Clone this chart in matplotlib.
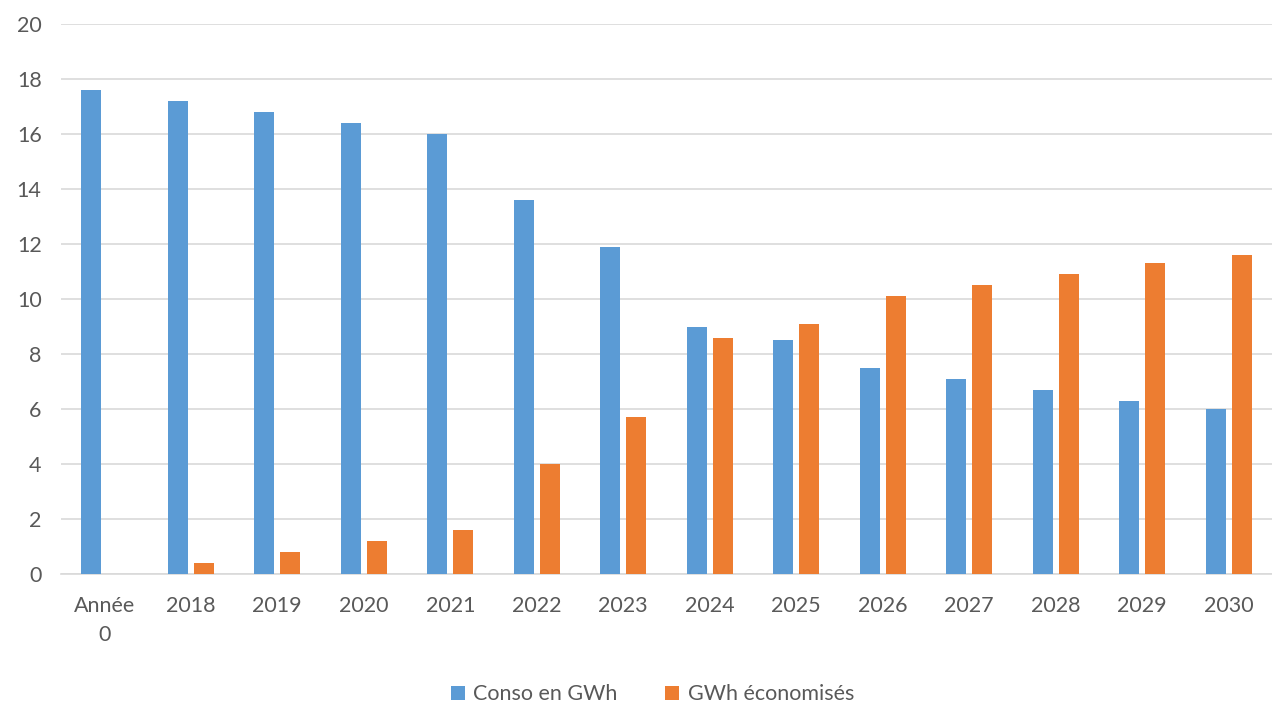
import numpy as np
import matplotlib.pyplot as plt

plt.rcParams['font.family'] = ['Lato', 'DejaVu Sans']

# Data
categories = ['Année\n0', '2018', '2019', '2020', '2021', '2022', '2023',
              '2024', '2025', '2026', '2027', '2028', '2029', '2030']
conso = [17.6, 17.2, 16.8, 16.4, 16.0, 13.6, 11.9, 9.0, 8.5, 7.5, 7.1, 6.7, 6.3, 6.0]
economises = [0.0, 0.4, 0.8, 1.2, 1.6, 4.0, 5.7, 8.6, 9.1, 10.1, 10.5, 10.9, 11.3, 11.6]

blue = '#5B9BD5'
orange = '#ED7D31'
text_col = '#595959'

fig = plt.figure(figsize=(12.72, 7.07), dpi=100)
ax = fig.add_axes([0.048, 0.188, 0.952, 0.778])

x = np.arange(len(categories))
w = 0.23
ax.bar(x - 0.15, conso, w, color=blue, label='Conso en GWh', zorder=3)
ax.bar(x + 0.15, economises, w, color=orange, label='GWh économisés', zorder=3)

ax.set_xlim(-0.5, len(categories) - 0.5)
ax.set_ylim(0, 20)
ax.set_yticks(range(0, 21, 2))
ax.set_xticks(x)
ax.set_xticklabels(categories, linespacing=1.55)
ax.grid(axis='y', color='#D9D9D9', linewidth=1.2, zorder=0)
for s in ['top', 'right', 'left']:
    ax.spines[s].set_visible(False)
ax.spines['bottom'].set_color('#D9D9D9')
ax.spines['bottom'].set_linewidth(1.2)
ax.tick_params(length=0, labelsize=15.5, colors=text_col)
ax.tick_params(axis='x', pad=16)
ax.tick_params(axis='y', pad=14)

leg = fig.legend(loc='center', bbox_to_anchor=(0.513, 0.018), ncol=2, frameon=False,
                 fontsize=15.5, handlelength=0.65, handleheight=0.65,
                 columnspacing=2.2, handletextpad=0.4)
for t in leg.get_texts():
    t.set_color(text_col)

fig.savefig('out.png', dpi=100)
